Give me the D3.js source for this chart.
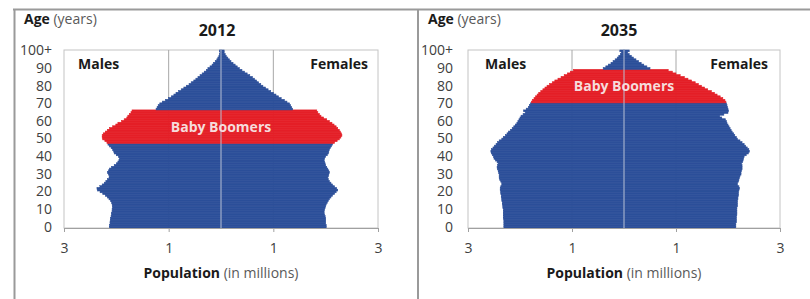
<!DOCTYPE html>
<html>
<head>
<meta charset="utf-8">
<script src="https://cdn.jsdelivr.net/npm/d3@7"></script>
<style>
  body { margin: 0; background: #fff; }
  text { font-family: "Open Sans", sans-serif; }
</style>
</head>
<body>
<div id="pyramids"></div>
<script>
// single years of age 0..100 (100 = 100+), population in millions
var ages = d3.range(0, 101);

var males2012 = [
  2.13, 2.13, 2.12, 2.12, 2.11, 2.11, 2.10, 2.09, 2.09, 2.08,
  2.08, 2.07, 2.07, 2.08, 2.09, 2.11, 2.14, 2.17, 2.21, 2.26,
  2.31, 2.36, 2.37, 2.32, 2.27, 2.23, 2.20, 2.17, 2.14, 2.13,
  2.15, 2.17, 2.15, 2.13, 2.09, 2.04, 2.00, 1.97, 1.95, 1.94,
  1.96, 2.00, 2.04, 2.05, 2.07, 2.10, 2.13, 2.16, 2.18, 2.22,
  2.26, 2.27, 2.27, 2.25, 2.21, 2.17, 2.13, 2.07, 2.01, 1.97,
  1.90, 1.85, 1.80, 1.78, 1.75, 1.72, 1.70, 1.24, 1.22, 1.20,
  1.17, 1.12, 1.06, 1.00, 0.95, 0.90, 0.86, 0.81, 0.76, 0.71,
  0.66, 0.61, 0.57, 0.52, 0.48, 0.44, 0.40, 0.36, 0.32, 0.28,
  0.25, 0.21, 0.17, 0.14, 0.11, 0.08, 0.06, 0.04, 0.03, 0.02,
  0.03
];
var females2012 = [
  2.01, 2.01, 2.00, 2.00, 2.00, 2.00, 1.99, 1.98, 1.97, 1.97,
  1.98, 1.99, 2.00, 2.01, 2.03, 2.05, 2.07, 2.10, 2.13, 2.17,
  2.20, 2.23, 2.21, 2.17, 2.13, 2.10, 2.07, 2.05, 2.04, 2.05,
  2.06, 2.07, 2.06, 2.04, 2.02, 2.00, 1.99, 1.98, 1.97, 1.98,
  2.00, 2.03, 2.05, 2.06, 2.07, 2.09, 2.11, 2.13, 2.17, 2.22,
  2.26, 2.29, 2.31, 2.30, 2.28, 2.26, 2.23, 2.20, 2.16, 2.12,
  2.07, 2.02, 1.96, 1.91, 1.88, 1.85, 1.83, 1.37, 1.35, 1.33,
  1.31, 1.26, 1.21, 1.15, 1.10, 1.05, 1.00, 0.95, 0.90, 0.85,
  0.80, 0.76, 0.72, 0.68, 0.64, 0.60, 0.55, 0.50, 0.45, 0.40,
  0.35, 0.31, 0.27, 0.23, 0.19, 0.16, 0.13, 0.10, 0.08, 0.06,
  0.06
];
var males2035 = [
  2.31, 2.31, 2.31, 2.31, 2.31, 2.32, 2.32, 2.32, 2.32, 2.32,
  2.32, 2.33, 2.33, 2.34, 2.34, 2.35, 2.35, 2.36, 2.36, 2.37,
  2.37, 2.38, 2.38, 2.37, 2.35, 2.35, 2.37, 2.39, 2.40, 2.40,
  2.40, 2.41, 2.42, 2.43, 2.44, 2.43, 2.42, 2.44, 2.47, 2.50,
  2.51, 2.53, 2.55, 2.56, 2.55, 2.52, 2.49, 2.46, 2.43, 2.40,
  2.35, 2.32, 2.28, 2.25, 2.22, 2.18, 2.15, 2.12, 2.09, 2.06,
  2.04, 2.02, 2.00, 1.98, 1.94, 1.90, 1.93, 1.88, 1.84, 1.82,
  1.80, 1.78, 1.76, 1.73, 1.70, 1.67, 1.64, 1.60, 1.56, 1.52,
  1.48, 1.43, 1.38, 1.33, 1.27, 1.21, 1.15, 1.09, 1.03, 0.97,
  0.40, 0.35, 0.30, 0.25, 0.21, 0.17, 0.13, 0.10, 0.07, 0.05,
  0.08
];
var females2035 = [
  2.15, 2.15, 2.15, 2.16, 2.16, 2.16, 2.16, 2.17, 2.17, 2.17,
  2.17, 2.17, 2.18, 2.18, 2.18, 2.18, 2.19, 2.19, 2.20, 2.20,
  2.20, 2.21, 2.22, 2.21, 2.18, 2.18, 2.20, 2.21, 2.22, 2.23,
  2.25, 2.25, 2.26, 2.27, 2.27, 2.27, 2.26, 2.28, 2.29, 2.30,
  2.31, 2.35, 2.39, 2.41, 2.40, 2.37, 2.34, 2.31, 2.27, 2.23,
  2.18, 2.16, 2.13, 2.11, 2.08, 2.06, 2.04, 2.02, 2.00, 1.98,
  1.97, 1.95, 1.88, 1.84, 1.92, 2.00, 2.01, 2.00, 1.99, 1.98,
  1.97, 1.96, 1.94, 1.90, 1.85, 1.79, 1.74, 1.68, 1.61, 1.55,
  1.49, 1.43, 1.37, 1.30, 1.23, 1.16, 1.08, 1.00, 0.93, 0.85,
  0.50, 0.44, 0.38, 0.33, 0.28, 0.23, 0.18, 0.14, 0.10, 0.07,
  0.10
];

// baby boomers (born 1946-1964) age range in each year
var boomers2012 = [48, 66];
var boomers2035 = [71, 89];

var yTicks = [0, 10, 20, 30, 40, 50, 60, 70, 80, 90, 100];
var yTickLabels = ["0", "10", "20", "30", "40", "50", "60", "70", "80", "90", "100+"];
var xTicks = [-3, -1, 1, 3];
var xTickLabels = ["3", "1", "1", "3"];

var blue = "#2c4f99", red = "#e41f27";

var svg = d3.select("#pyramids")
  .append("svg")
  .attr("width", 810)
  .attr("height", 299);

svg.append("rect").attr("width", 810).attr("height", 299).attr("fill", "#fff");

function drawPyramid(opt) {
  var g = svg.append("g");

  var x = d3.scaleLinear()
    .domain([-3, 3])
    .range([opt.left, opt.right]);

  var y = d3.scaleBand()
    .domain(ages)
    .range([228, 50])
    .padding(0);

  var bw = y.bandwidth();

  // plot border
  g.append("rect")
    .attr("x", opt.left)
    .attr("y", 50)
    .attr("width", opt.right - opt.left)
    .attr("height", 178)
    .attr("fill", "none")
    .attr("stroke", "#c4c4c4");

  // gridlines
  g.selectAll(".grid")
    .data([-1, 1])
    .enter()
    .append("line")
    .attr("x1", function (d) { return x(d); })
    .attr("x2", function (d) { return x(d); })
    .attr("y1", 50)
    .attr("y2", 228)
    .attr("stroke", "#a8a8a8");

  function isBoomer(a) { return a >= opt.boomers[0] && a <= opt.boomers[1]; }
  function colour(a) { return isBoomer(a) ? red : blue; }

  g.append("g")
    .selectAll("rect")
    .data(ages)
    .enter()
    .append("rect")
    .attr("x", function (a) { return x(-opt.males[a]); })
    .attr("y", function (a) { return y(a); })
    .attr("width", function (a) { return x(0) - x(-opt.males[a]); })
    .attr("height", bw)
    .attr("fill", colour)
    .attr("stroke", colour)
    .attr("stroke-width", 0.6);

  g.append("g")
    .selectAll("rect")
    .data(ages)
    .enter()
    .append("rect")
    .attr("x", x(0))
    .attr("y", function (a) { return y(a); })
    .attr("width", function (a) { return x(opt.females[a]) - x(0); })
    .attr("height", bw)
    .attr("fill", colour)
    .attr("stroke", colour)
    .attr("stroke-width", 0.6);

  // vertical axis at zero, drawn over the bars
  g.append("line")
    .attr("x1", x(0))
    .attr("x2", x(0))
    .attr("y1", 50)
    .attr("y2", 228)
    .attr("stroke", "#b9c2d6")
    .attr("stroke-width", 1);

  var xAxis = g.append("g")
    .attr("transform", "translate(0,228)")
    .call(d3.axisBottom(x)
      .tickValues(xTicks)
      .tickFormat(function (d, i) { return xTickLabels[i]; })
      .tickSize(4)
      .tickSizeOuter(0)
      .tickPadding(11));
  xAxis.select(".domain").attr("stroke", "#a0a0a0");
  xAxis.selectAll(".tick line").attr("stroke", "#a0a0a0");
  xAxis.selectAll("text")
    .attr("fill", "#404040")
    .style("font-size", "14px")
    .style("font-family", "Open Sans");

  var yAxis = g.append("g")
    .attr("transform", "translate(" + opt.left + ",0)")
    .call(d3.axisLeft(y)
      .tickValues(yTicks)
      .tickFormat(function (d, i) { return yTickLabels[i]; })
      .tickSize(0)
      .tickPadding(opt.labelPad));
  yAxis.select(".domain").remove();
  yAxis.selectAll("text")
    .attr("fill", "#404040")
    .style("font-size", "14px")
    .style("font-family", "Open Sans");

  // titles and labels
  var mid = x(0);

  var ageLabel = g.append("text")
    .attr("x", opt.ageX)
    .attr("y", 24)
    .style("font-size", "14px");
  ageLabel.append("tspan").attr("font-weight", "bold").attr("fill", "#1a1a1a").text("Age");
  ageLabel.append("tspan").attr("fill", "#595959").text(" (years)");

  g.append("text")
    .attr("x", opt.titleX)
    .attr("y", 36)
    .attr("text-anchor", "middle")
    .attr("font-weight", "bold")
    .attr("fill", "#1a1a1a")
    .style("font-size", "16px")
    .text(opt.title);

  g.append("text")
    .attr("x", opt.malesX)
    .attr("y", 69)
    .attr("font-weight", "bold")
    .attr("fill", "#1a1a1a")
    .style("font-size", "14px")
    .text("Males");

  g.append("text")
    .attr("x", opt.femalesX)
    .attr("y", 69)
    .attr("text-anchor", "end")
    .attr("font-weight", "bold")
    .attr("fill", "#1a1a1a")
    .style("font-size", "14px")
    .text("Females");

  var boomMid = (y(opt.boomers[0]) + bw + y(opt.boomers[1])) / 2;
  g.append("text")
    .attr("x", mid)
    .attr("y", boomMid + 5)
    .attr("text-anchor", "middle")
    .attr("font-weight", "bold")
    .attr("fill", "#f6dcdc")
    .style("font-size", "14px")
    .text("Baby Boomers");

  var popLabel = g.append("text")
    .attr("x", mid)
    .attr("y", 278)
    .attr("text-anchor", "middle")
    .style("font-size", "14px");
  popLabel.append("tspan").attr("font-weight", "bold").attr("fill", "#1a1a1a").text("Population");
  popLabel.append("tspan").attr("fill", "#595959").text(" (in millions)");
}

drawPyramid({
  title: "2012", males: males2012, females: females2012, boomers: boomers2012,
  left: 64, right: 378, labelPad: 12, ageX: 24, titleX: 217, malesX: 78, femalesX: 368
});

drawPyramid({
  title: "2035", males: males2035, females: females2035, boomers: boomers2035,
  left: 468, right: 780, labelPad: 15, ageX: 428, titleX: 619, malesX: 485, femalesX: 768
});

// chart frames
svg.append("line").attr("x1", 13).attr("x2", 810).attr("y1", 9.5).attr("y2", 9.5)
  .attr("stroke", "#9a9a9a").attr("stroke-width", 2);
svg.append("line").attr("x1", 14.5).attr("x2", 14.5).attr("y1", 9).attr("y2", 299)
  .attr("stroke", "#9a9a9a").attr("stroke-width", 2);
svg.append("line").attr("x1", 418).attr("x2", 418).attr("y1", 9).attr("y2", 299)
  .attr("stroke", "#9a9a9a").attr("stroke-width", 2);
</script>
</body>
</html>
